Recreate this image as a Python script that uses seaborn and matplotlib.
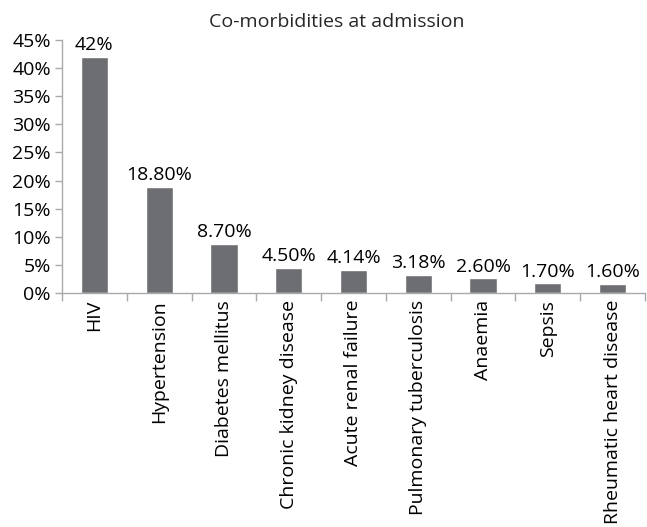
import matplotlib
matplotlib.use("Agg")
import matplotlib.pyplot as plt
import seaborn as sns
import pandas as pd
from matplotlib.ticker import FixedLocator, NullFormatter

conditions = ["HIV", "Hypertension", "Diabetes mellitus", "Chronic kidney disease",
              "Acute renal failure", "Pulmonary tuberculosis", "Anaemia", "Sepsis",
              "Rheumatic heart disease"]
prevalence = [42.0, 18.8, 8.7, 4.5, 4.14, 3.18, 2.6, 1.7, 1.6]
value_labels = ["42%", "18.80%", "8.70%", "4.50%", "4.14%", "3.18%", "2.60%", "1.70%", "1.60%"]
y_ticks = [0, 5, 10, 15, 20, 25, 30, 35, 40, 45]

df = pd.DataFrame({"condition": conditions, "prevalence": prevalence})

sns.set_theme(style="white")
plt.rcParams["font.family"] = ["Open Sans", "DejaVu Sans"]

fig = plt.figure(figsize=(6.47, 5.27), dpi=100)
ax = fig.add_axes([62 / 647, 1 - 293 / 527, 583 / 647, (293 - 40) / 527])

sns.barplot(data=df, x="condition", y="prevalence", color="#6d6e71",
            saturation=1, width=0.42, ax=ax)

axis_col = "#a7a9ac"
ax.set_ylim(0, 45)
ax.set_xlim(-0.5, len(conditions) - 0.5)
ax.set_yticks(y_ticks)
ax.set_yticklabels([f"{t}%" for t in y_ticks], fontsize=14, color="black")
ax.tick_params(axis="y", direction="out", length=5, width=1, color=axis_col, pad=3, left=True)

# category labels, rotated, with tick marks between categories
ax.set_xticks(range(len(conditions)))
ax.set_xticklabels(conditions, rotation=90, fontsize=14, color="black")
ax.tick_params(axis="x", which="major", length=0, pad=5)
ax.xaxis.set_minor_locator(FixedLocator([i + 0.5 for i in range(-1, len(conditions))]))
ax.xaxis.set_minor_formatter(NullFormatter())
ax.tick_params(axis="x", which="minor", direction="out", length=6, width=1, color=axis_col, bottom=True)

for side in ["top", "right"]:
    ax.spines[side].set_visible(False)
for side in ["left", "bottom"]:
    ax.spines[side].set_color(axis_col)
    ax.spines[side].set_linewidth(1)

ax.set_xlabel("")
ax.set_ylabel("")

for i, (v, lab) in enumerate(zip(prevalence, value_labels)):
    ax.text(i, v + 0.5, lab, ha="center", va="bottom", fontsize=14, color="black")

fig.text(0.52, 1 - 22 / 527, "Co-morbidities at admission", ha="center", va="center", fontsize=14)

fig.savefig("out.png", dpi=100)
